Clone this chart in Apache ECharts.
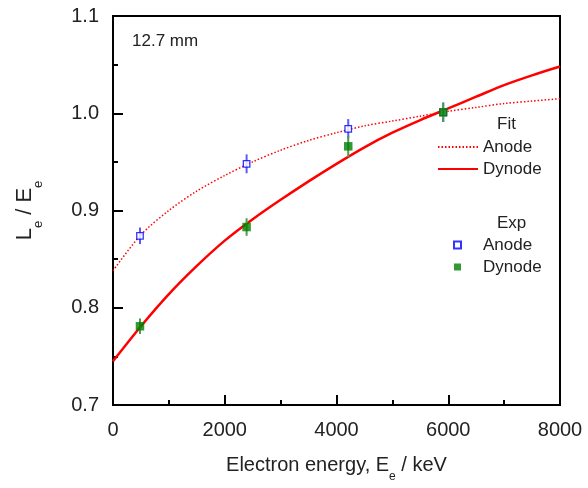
<!DOCTYPE html>
<html>
<head>
<meta charset="utf-8">
<script src="https://cdn.jsdelivr.net/npm/echarts@6/dist/echarts.min.js"></script>
<style>
  html, body { margin: 0; padding: 0; background: #fff; }
  #chart { width: 588px; height: 488px; }
</style>
</head>
<body>
<div id="chart"></div>
<script>
// Fitted light-yield curves (energy in keV, L_e / E_e)
const fitAnode = [
  [0, 0.838], [500, 0.875], [1000, 0.900], [1500, 0.920], [2000, 0.936],
  [2500, 0.950], [3000, 0.962], [3500, 0.972], [4000, 0.980], [4500, 0.987],
  [5000, 0.992], [5500, 0.997], [6000, 1.002], [6500, 1.006], [7000, 1.010],
  [7500, 1.0125], [8000, 1.015]
];
const fitDynode = [
  [0, 0.745], [500, 0.781], [1000, 0.814], [1500, 0.843], [2000, 0.869],
  [2500, 0.891], [3000, 0.911], [3500, 0.930], [4000, 0.948], [4500, 0.965],
  [5000, 0.980], [5500, 0.993], [6000, 1.005], [6500, 1.017], [7000, 1.029],
  [7500, 1.039], [8000, 1.048]
];
// Measured points: [energy, value, error]
const expAnode = [
  [483, 0.874, 0.0085], [2391, 0.948, 0.0097], [4210, 0.984, 0.010], [5910, 1.001, 0.010]
];
const expDynode = [
  [483, 0.781, 0.008], [2391, 0.883, 0.009], [4210, 0.966, 0.011], [5910, 1.001, 0.010]
];
const xTicks = { min: 0, max: 8000, interval: 2000 };
const yTicks = { min: 0.7, max: 1.1, interval: 0.1 };

const FONT = '"Liberation Sans", Arial, sans-serif';
const chart = echarts.init(document.getElementById('chart'), null, { renderer: 'canvas' });

// Vertical error bar from value - err to value + err
function errorBars(color) {
  return function (params, api) {
    const x = api.value(0), y = api.value(1), e = api.value(2);
    const p1 = api.coord([x, y - e]);
    const p2 = api.coord([x, y + e]);
    return {
      type: 'line',
      shape: { x1: p1[0], y1: p1[1], x2: p2[0], y2: p2[1] },
      style: { stroke: color, lineWidth: 2 }
    };
  };
}

const option = {
  backgroundColor: '#fff',
  animation: false,
  textStyle: { fontFamily: FONT },
  grid: {
    left: 113, right: 28, top: 16, bottom: 81,
    show: true, borderColor: '#000', borderWidth: 2, backgroundColor: 'transparent'
  },
  title: [
    { text: '12.7 mm', left: 132, top: 33, padding: 0,
      textStyle: { fontFamily: FONT, fontSize: 17, fontWeight: 'normal', color: '#222' } },
    { text: 'Fit', left: 497, top: 116, padding: 0,
      textStyle: { fontFamily: FONT, fontSize: 17, fontWeight: 'normal', color: '#222' } },
    { text: 'Exp', left: 497, top: 215, padding: 0,
      textStyle: { fontFamily: FONT, fontSize: 17, fontWeight: 'normal', color: '#222' } }
  ],
  legend: [
    {
      data: ['Fit Anode', 'Fit Dynode'],
      orient: 'vertical', left: 437, top: 137, padding: 0,
      itemWidth: 40, itemHeight: 14, itemGap: 2,
      itemStyle: { color: 'rgba(0,0,0,0)', borderWidth: 0, opacity: 0 },
      formatter: n => n.split(' ')[1],
      textStyle: { fontFamily: FONT, fontSize: 17, color: '#222', lineHeight: 20 }
    },
    {
      data: [{ name: 'Exp Anode', icon: 'rect' }, { name: 'Exp Dynode', icon: 'rect' }],
      orient: 'vertical', left: 453, top: 235, padding: 0,
      itemWidth: 7, itemHeight: 7, itemGap: 2,
      formatter: n => n.split(' ')[1],
      textStyle: { fontFamily: FONT, fontSize: 17, color: '#222', lineHeight: 20, padding: [0, 0, 0, 17] }
    }
  ],
  xAxis: {
    type: 'value',
    min: xTicks.min, max: xTicks.max, interval: xTicks.interval,
    name: '{t|Electron energy, E}{s|e}{t| / keV}',
    nameLocation: 'middle', nameGap: 50,
    nameTextStyle: {
      rich: {
        t: { fontFamily: FONT, fontSize: 20, color: '#222', lineHeight: 20, verticalAlign: 'top' },
        s: { fontFamily: FONT, fontSize: 12, color: '#222', lineHeight: 12, padding: [16, 0, 0, 0], verticalAlign: 'top' }
      }
    },
    axisLine: { show: true, lineStyle: { color: '#000', width: 2 } },
    axisTick: { show: true, inside: true, length: 10, lineStyle: { color: '#000', width: 2 } },
    minorTick: { show: true, splitNumber: 2, length: 5, lineStyle: { color: '#000', width: 2 } },
    axisLabel: { fontFamily: FONT, fontSize: 20, color: '#222', margin: 15,
      formatter: v => String(v) },
    splitLine: { show: false }
  },
  yAxis: {
    type: 'value',
    min: yTicks.min, max: yTicks.max, interval: yTicks.interval,
    name: '{t|L}{s|e}{t| / E}{s|e}',
    nameLocation: 'middle', nameGap: 77, nameRotate: 90,
    nameTextStyle: {
      rich: {
        t: { fontFamily: FONT, fontSize: 22, color: '#222', lineHeight: 22, verticalAlign: 'top' },
        s: { fontFamily: FONT, fontSize: 13, color: '#222', lineHeight: 13, padding: [18, 0, 0, 0], verticalAlign: 'top' }
      }
    },
    axisLine: { show: true, lineStyle: { color: '#000', width: 2 } },
    axisTick: { show: true, inside: true, length: 10, lineStyle: { color: '#000', width: 2 } },
    minorTick: { show: true, splitNumber: 2, length: 5, lineStyle: { color: '#000', width: 2 } },
    axisLabel: { fontFamily: FONT, fontSize: 20, color: '#222', margin: 14,
      formatter: v => v.toFixed(1) },
    splitLine: { show: false }
  },
  series: [
    {
      name: 'Fit Anode', type: 'line', data: fitAnode, smooth: 0.3,
      symbol: 'none', color: '#ff0000',
      lineStyle: { color: '#ff0000', width: 1.5, type: [1.5, 2] }, z: 2
    },
    {
      name: 'Fit Dynode', type: 'line', data: fitDynode, smooth: 0.3,
      symbol: 'none', color: '#ff0000',
      lineStyle: { color: '#ff0000', width: 2.5 }, z: 2
    },
    {
      name: 'Anode error', type: 'custom', data: expAnode,
      renderItem: errorBars('#5a5aff'), z: 3
    },
    {
      name: 'Exp Anode', type: 'scatter', data: expAnode.map(d => [d[0], d[1]]),
      symbol: 'rect', symbolSize: 6.5, color: '#0000ff',
      itemStyle: { color: '#fff', borderColor: '#0000ff', borderWidth: 1.3 }, z: 4
    },
    {
      name: 'Dynode error', type: 'custom', data: expDynode,
      renderItem: errorBars('#4c9a4c'), z: 5
    },
    {
      name: 'Exp Dynode', type: 'scatter', data: expDynode.map(d => [d[0], d[1]]),
      symbol: 'rect', symbolSize: 8.5, color: '#008000',
      itemStyle: { color: '#008000' }, z: 6
    }
  ]
};
chart.setOption(option);
</script>
</body>
</html>
